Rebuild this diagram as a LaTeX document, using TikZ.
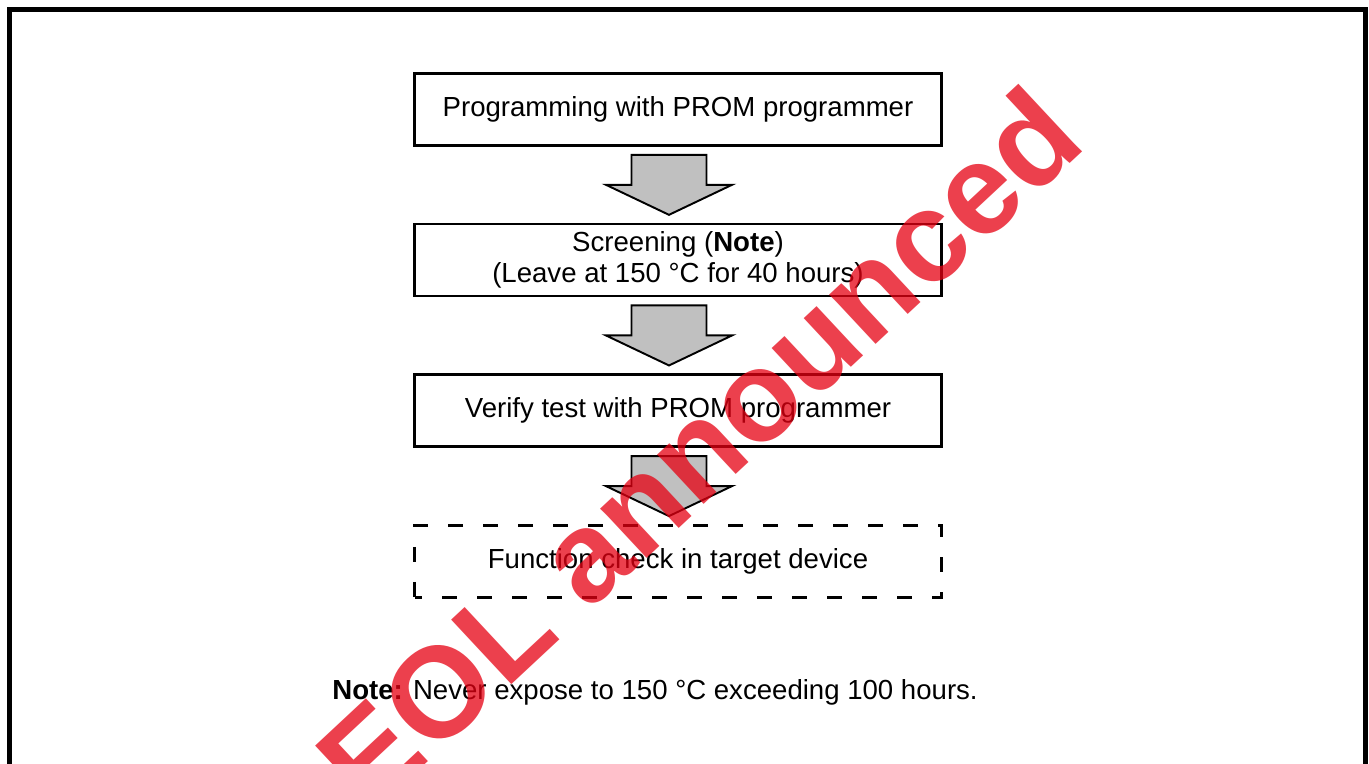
\documentclass[tikz,border=0pt]{standalone}
\usepackage{fontspec}
\setmainfont{Liberation Sans}
\usepackage{xcolor}
\definecolor{arrow-fill}{HTML}{C0C0C0}
\definecolor{eol-red}{HTML}{E60012}
\usetikzlibrary{
  positioning,
  calc
}

\begin{document}
\begin{tikzpicture}[
    flowbox/.style={
      rectangle,
      draw=black,
      line width=1.5pt,
      minimum width=10.54cm,
      minimum height=1.44cm,
      inner sep=0pt,
      align=center,
      font=\fontsize{15.7}{17.6}\selectfont
    },
    checkbox/.style={
      flowbox,
      dash pattern=on 0.3cm off 0.4cm,
      dash phase=0.15cm
    },
    blockarrow/.style={
      draw=black,
      line width=1.1pt,
      fill=arrow-fill,
      line join=miter
    },
    notetext/.style={
      inner sep=0pt,
      font=\fontsize{15.7}{17.6}\selectfont
    },
    stamp/.style={
      inner sep=0pt,
      rotate=43,
      text=eol-red,
      text opacity=0.75,
      font=\fontsize{73}{73}\selectfont\bfseries
    }
  ]
    % Page size and frame
    \useasboundingbox (0,0) rectangle (27.38,-15.26);
    \fill[white] (0,0) rectangle (27.38,-15.26);
    \draw[line width=0.1cm] (0.19,-16) -- (0.19,-0.19) -- (27.31,-0.19) -- (27.31,-16);

    % Steps from top to bottom
    \node[flowbox] (prog) at (13.56,-2.19) {Programming with PROM programmer};
    \node[flowbox, below=1.52cm of prog]
      (screen) {Screening (\textbf{Note})\\(Leave at 150~°C for 40 hours)};
    \node[flowbox, below=1.52cm of screen] (verify) {Verify test with PROM programmer};
    \node[checkbox, below=1.52cm of verify] (funccheck) {Function check in target device};

    % Block arrows between steps
    \foreach \from/\to in {prog/screen, screen/verify, verify/funccheck}
      \draw[blockarrow] ($(\from.south)+(-0.93,-0.16)$) -- ++(0,-0.6) -- ++(-0.51,0)
        -- ($(\to.north)+(-0.18,0.16)$) -- ++(1.26,0.6) -- ++(-0.51,0) -- ++(0,0.6) -- cycle;

    % Footnote
    \node[notetext, anchor=base west] (note) at (6.64,-13.98)
      {\textbf{Note:} Never expose to 150~°C exceeding 100 hours.};

    % Stamp across the page
    \node[stamp] (eol) at (13.96,-8.96) {EOL announced};
  \end{tikzpicture}
\end{document}
